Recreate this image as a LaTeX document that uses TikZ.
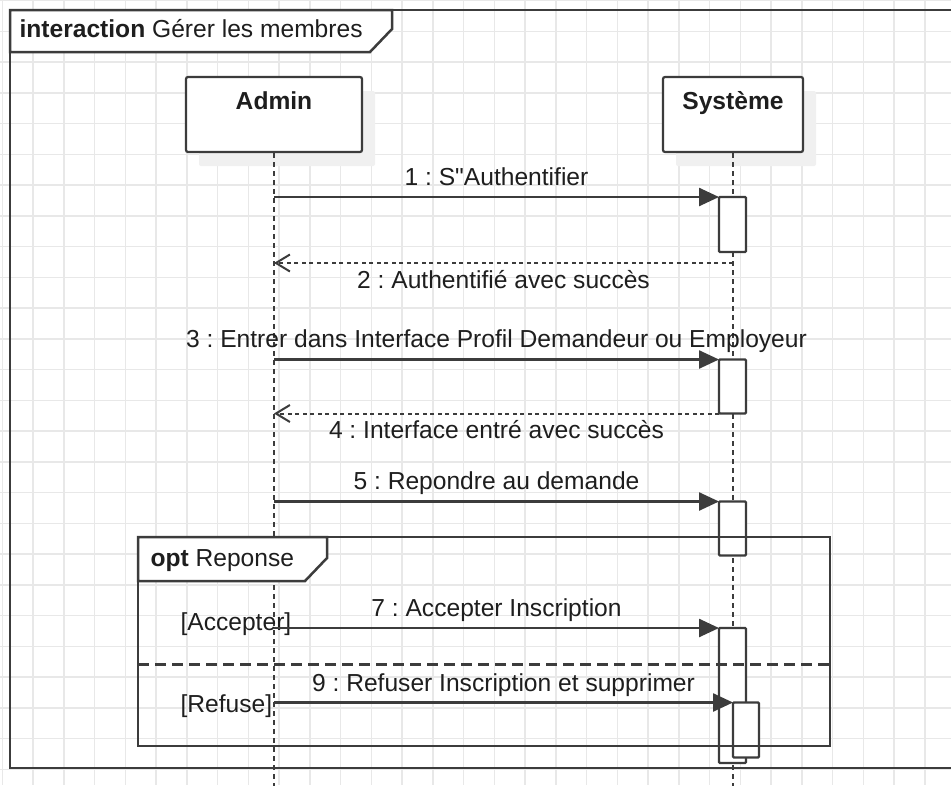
\documentclass[tikz,border=0pt]{standalone}
\usepackage{fontspec}
\setmainfont{Liberation Sans}[Ligatures=TeXOff]
\usetikzlibrary{positioning, arrows.meta, shadows}
\frenchspacing

\definecolor{linegray}{HTML}{3C3C3C}
\definecolor{gridgray}{HTML}{E8E8E8}
\definecolor{textgray}{HTML}{1E1E1E}

\tikzset{
  head/.style={draw=linegray, fill=white, line width=2.2pt, rounded corners=2pt,
    minimum height=75pt, text height=17pt, text depth=27.5pt, inner sep=0pt,
    font=\fontsize{24.6}{28}\selectfont\bfseries, text=textgray,
    general shadow={fill=black!6, shadow xshift=13pt, shadow yshift=-14pt}},
  lifeline/.style={linegray, line width=2pt, dash pattern=on 5pt off 4pt},
  bar/.style={draw=linegray, fill=white, line width=2.2pt, minimum width=27pt,
    inner sep=0pt, outer sep=0pt, anchor=north west, rounded corners=1pt},
  call/.style={linegray, line width=2.5pt, -{Triangle[length=20pt,width=18pt]}},
  reply/.style={linegray, line width=2pt, dash pattern=on 4pt off 3.5pt,
    -{Straight Barb[length=14pt,width=17pt,line width=2pt]}},
  msg/.style={anchor=base, text=textgray},
  frame/.style={linegray, line width=2.5pt},
  tag/.style={draw=linegray, fill=white, line width=2.5pt}
}

\begin{document}
\begin{tikzpicture}[x=1pt, y=-1pt, node distance=459pt, on grid,
    font=\fontsize{24.6}{28}\selectfont]
  \useasboundingbox (0,0) rectangle (951,785);
  \fill[white] (0,0) rectangle (951,785);
  % background grid
  \foreach \k in {0,...,30}
    \draw[gridgray, line width=1.5pt] (2.3+30.75*\k,0) -- (2.3+30.75*\k,785);
  \foreach \k in {0,...,25}
    \draw[gridgray, line width=1.5pt] (0,0.5+30.75*\k) -- (951,0.5+30.75*\k);

  % interaction frame
  \draw[frame] (965,10) -- (10,10) -- (10,768) -- (965,768);
  \draw[tag] (10,10) -- (392,10) -- (392,29) -- (370,52) -- (10,52) -- cycle;
  \node[msg, anchor=base west] (title) at (16,37.3) {\textbf{interaction} Gérer les membres};

  % lifelines
  \node[head, minimum width=176pt] (admin) at (274,114.5) {Admin};
  \node[head, minimum width=140pt] (sys) [right=of admin] {Système};
  \coordinate (bottom) at (0,790);
  \draw[lifeline] (admin.south) -- (admin.south |- bottom);
  \draw[lifeline] (sys.south) -- (sys.south |- bottom);

  % activations
  \node[bar, minimum height=55pt] (act1) at (719,197) {};
  \node[bar, minimum height=54pt] (act2) at (719,359.5) {};
  \node[bar, minimum height=54pt] (act3) at (719,501.5) {};
  \node[bar, minimum height=135pt] (act4) at (719,628) {};
  \node[bar, minimum width=26pt, minimum height=55pt] (act5) at (733,702.5) {};

  % messages
  \coordinate (r2) at (733,263);
  \draw[call] (admin |- act1.north west) -- node[msg, yshift=12pt] {1 : S"Authentifier} (act1.north west);
  \draw[reply] (r2) -- node[msg, yshift=-25pt] {2 : Authentifié avec succès} (admin |- r2);
  \draw[call] (admin |- act2.north west) -- node[msg, yshift=12pt] {3 : Entrer dans Interface Profil Demandeur ou Employeur} (act2.north west);
  \draw[reply] (act2.south west) -- node[msg, yshift=-25pt] {4 : Interface entré avec succès} (admin |- act2.south west);
  \draw[call] (admin |- act3.north west) -- node[msg, yshift=12pt] {5 : Repondre au demande} (act3.north west);

  % opt fragment
  \draw[frame] (138,537) rectangle (830,746);
  \draw[frame, dash pattern=on 11pt off 6pt] (138,664.3) -- (830,664.3);
  \draw[tag] (138,537) -- (327,537) -- (327,558) -- (305,581) -- (138,581) -- cycle;
  \node[msg, anchor=base west] (opt) at (147,566.7) {\textbf{opt} Reponse};
  \node[msg, anchor=base west] (accept) at (177,630) {[Accepter]};
  \node[msg, anchor=base west] (refuse) at (177,712) {[Refuse]};
  \draw[call] (admin |- act4.north west) -- node[msg, yshift=12pt] {7 : Accepter Inscription} (act4.north west);
  \draw[call] (admin |- act5.north west) -- node[msg, yshift=11pt] {9 : Refuser Inscription et supprimer} (act5.north west);
\end{tikzpicture}
\end{document}
